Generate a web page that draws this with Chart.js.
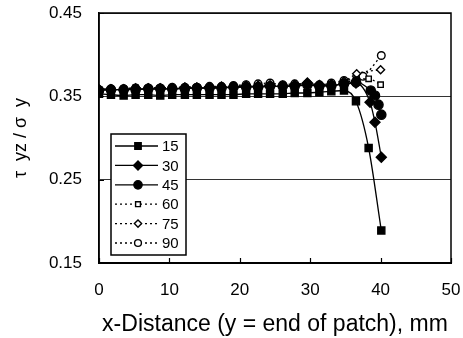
<!DOCTYPE html>
<html>
<head>
<meta charset="utf-8">
<script src="https://cdn.jsdelivr.net/npm/chart.js@4.4.0/dist/chart.umd.min.js"></script>
<style>
    html, body { margin: 0; padding: 0; background: #fff; }
    canvas { display: block; }
</style>
</head>
<body>
<canvas id="chart" width="463" height="338"></canvas>
<script>
// x positions (mm) shared by the flat part of every curve
const xBase = [0, 1.7, 3.5, 5.2, 7.0, 8.7, 10.4, 12.2, 13.9, 15.7, 17.4, 19.1, 20.9, 22.6, 24.3, 26.1, 27.8, 29.6, 31.3, 33.0, 34.8];

const y15 = [0.353, 0.352, 0.351, 0.352, 0.352, 0.351, 0.352, 0.352, 0.352, 0.352, 0.352, 0.352, 0.353, 0.353, 0.353, 0.353, 0.354, 0.354, 0.355, 0.356, 0.357];
const y30 = [0.358, 0.358, 0.358, 0.359, 0.359, 0.359, 0.359, 0.360, 0.360, 0.360, 0.361, 0.361, 0.362, 0.362, 0.362, 0.362, 0.363, 0.366, 0.363, 0.363, 0.365];
const y45 = [0.357, 0.358, 0.358, 0.358, 0.359, 0.359, 0.359, 0.359, 0.360, 0.360, 0.360, 0.361, 0.361, 0.361, 0.362, 0.362, 0.362, 0.364, 0.362, 0.363, 0.365];
const y60 = [0.358, 0.358, 0.359, 0.360, 0.359, 0.359, 0.359, 0.360, 0.360, 0.360, 0.361, 0.361, 0.361, 0.362, 0.363, 0.362, 0.363, 0.364, 0.363, 0.364, 0.366];
const y75 = [0.358, 0.359, 0.359, 0.359, 0.360, 0.360, 0.360, 0.361, 0.361, 0.361, 0.362, 0.362, 0.363, 0.363, 0.364, 0.363, 0.364, 0.366, 0.364, 0.365, 0.368];
const y90 = [0.358, 0.359, 0.359, 0.360, 0.360, 0.360, 0.361, 0.361, 0.361, 0.362, 0.362, 0.363, 0.364, 0.365, 0.366, 0.364, 0.365, 0.365, 0.364, 0.366, 0.369];

// end-of-patch points for each curve
const tailX15 = [36.5, 38.3, 40.1];
const tailY15 = [0.344, 0.288, 0.189];
const tailX30 = [36.5, 38.5, 39.2, 40.1];
const tailY30 = [0.366, 0.343, 0.319, 0.277];
const tailX45 = [36.5, 38.6, 39.2, 39.7, 40.1];
const tailY45 = [0.367, 0.357, 0.351, 0.340, 0.328];
const tailX60 = [36.5, 38.3, 40.0];
const tailY60 = [0.370, 0.371, 0.364];
const tailX75 = [36.6, 40.0];
const tailY75 = [0.377, 0.382];
const tailX90 = [37.5, 40.1];
const tailY90 = [0.374, 0.399];

const seriesLabels = ['15', '30', '45', '60', '75', '90'];
const xTicks = [0, 10, 20, 30, 40, 50];
const yTicks = [0.15, 0.25, 0.35, 0.45];

function points(xs, ys, tx, ty) {
    return xs.map((x, i) => ({ x: x, y: ys[i] })).concat(tx.map((x, i) => ({ x: x, y: ty[i] })));
}

function makeSet(label, data, style, radius, filled, dotted) {
    return {
        label: label,
        data: data,
        showLine: true,
        borderColor: '#000',
        borderWidth: 1.3,
        borderDash: dotted ? [2, 3] : [],
        cubicInterpolationMode: 'monotone',
        pointStyle: style,
        pointRadius: radius,
        pointBackgroundColor: filled ? '#000' : '#fff',
        pointBorderColor: '#000',
        pointBorderWidth: 1.4,
    };
}

const datasets = [
    makeSet(seriesLabels[0], points(xBase, y15, tailX15, tailY15), 'rect', 5, true, false),
    makeSet(seriesLabels[1], points(xBase, y30, tailX30, tailY30), 'rectRot', 5, true, false),
    makeSet(seriesLabels[2], points(xBase, y45, tailX45, tailY45), 'circle', 4.6, true, false),
    makeSet(seriesLabels[3], points(xBase, y60, tailX60, tailY60), 'rect', 3.8, false, true),
    makeSet(seriesLabels[4], points(xBase, y75, tailX75, tailY75), 'rectRot', 4, false, true),
    makeSet(seriesLabels[5], points(xBase, y90, tailX90, tailY90), 'circle', 3.8, false, true),
];

const FONT = "'Liberation Sans', Arial, sans-serif";

// box round the plot, inward ticks and the boxed legend
const framePlugin = {
    id: 'frame',
    afterDraw(chart) {
        const ctx = chart.ctx;
        const a = chart.chartArea;
        const xs = chart.scales.x;
        const ys = chart.scales.y;
        ctx.save();
        ctx.strokeStyle = '#000';
        ctx.lineWidth = 1.5;
        ctx.strokeRect(a.left, a.top, a.right - a.left, a.bottom - a.top);
        ctx.lineWidth = 1.2;
        ctx.beginPath();
        xTicks.forEach(v => {
            const px = Math.round(xs.getPixelForValue(v)) + 0.5;
            ctx.moveTo(px, a.bottom);
            ctx.lineTo(px, a.bottom - 5);
        });
        yTicks.forEach(v => {
            const py = Math.round(ys.getPixelForValue(v)) + 0.5;
            ctx.moveTo(a.left, py);
            ctx.lineTo(a.left + 5, py);
        });
        ctx.stroke();

        // legend
        const lx = 111, ly = 134, lw = 75, lh = 121;
        ctx.fillStyle = '#fff';
        ctx.fillRect(lx, ly, lw, lh);
        ctx.lineWidth = 1.5;
        ctx.strokeRect(lx, ly, lw, lh);
        chart.data.datasets.forEach((ds, i) => {
            const y = 146 + i * 19.4;
            ctx.strokeStyle = '#000';
            ctx.lineWidth = ds.borderWidth;
            ctx.setLineDash(ds.borderDash);
            ctx.beginPath();
            ctx.moveTo(115, y);
            ctx.lineTo(158, y);
            ctx.stroke();
            ctx.setLineDash([]);
            ctx.fillStyle = ds.pointBackgroundColor;
            ctx.lineWidth = ds.pointBorderWidth;
            Chart.helpers.drawPoint(ctx, {
                pointStyle: ds.pointStyle,
                radius: ds.pointRadius * 0.9,
                rotation: 0,
                borderWidth: ds.pointBorderWidth
            }, 138, y);
            ctx.fillStyle = '#000';
            ctx.font = '15px ' + FONT;
            ctx.textBaseline = 'middle';
            ctx.textAlign = 'left';
            ctx.fillText(ds.label, 162, y + 1);
        });
        ctx.restore();
    }
};

new Chart(document.getElementById('chart'), {
    type: 'scatter',
    data: { datasets: datasets },
    options: {
        responsive: false,
        animation: false,
        devicePixelRatio: 1,
        layout: { padding: { top: 13, right: 12, left: 0, bottom: 0 } },
        plugins: {
            legend: { display: false },
            tooltip: { enabled: false },
        },
        scales: {
            x: {
                type: 'linear',
                min: 0,
                max: 50,
                afterFit: s => {
                    s.height = 75;
                    s.paddingLeft = 0;
                    s.paddingRight = 0;
                },
                ticks: {
                    stepSize: 10,
                    color: '#000',
                    padding: 17,
                    font: { family: FONT, size: 17 },
                },
                grid: { display: false, drawTicks: false },
                border: { color: '#000', width: 2 },
                title: {
                    display: true,
                    text: 'x-Distance (y = end of patch), mm',
                    color: '#000',
                    font: { family: FONT, size: 23 },
                    padding: { top: 0, bottom: 0 },
                },
            },
            y: {
                min: 0.15,
                max: 0.45,
                afterFit: s => {
                    s.width = 99;
                    s.paddingTop = 0;
                    s.paddingBottom = 0;
                },
                afterBuildTicks: s => { s.ticks = yTicks.map(v => ({ value: v })); },
                ticks: {
                    color: '#000',
                    padding: 17,
                    font: { family: FONT, size: 17 },
                    callback: v => v.toFixed(2),
                },
                grid: { color: '#333', lineWidth: 1, drawTicks: false },
                border: { color: '#000', width: 1.5 },
                title: {
                    display: true,
                    text: 'τ  yz / σ  y',
                    color: '#000',
                    font: { family: FONT, size: 18 },
                    padding: { top: 10, bottom: 0 },
                },
            },
        },
    },
    plugins: [framePlugin],
});
</script>
</body>
</html>
